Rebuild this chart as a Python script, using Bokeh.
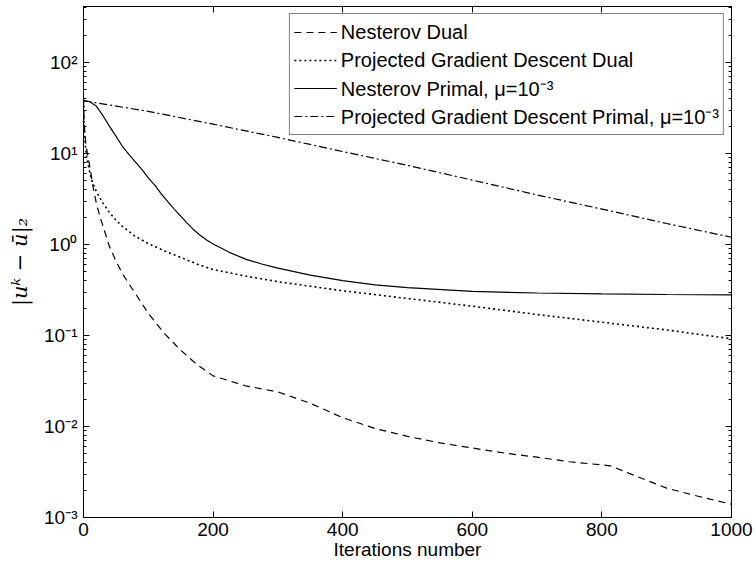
from bokeh.plotting import figure
from bokeh.models import Range1d, FixedTicker, LinearAxis, LogAxis, CustomJSTickFormatter
from bokeh.embed import file_html
from bokeh.resources import INLINE

# ---- data ----
nd_it = [0, 1, 3, 5, 10, 15, 20, 26, 30, 40, 50, 60, 70, 80, 90, 100, 125, 150, 175, 200,
         250, 300, 350, 400, 450, 500, 550, 600, 650, 700, 750, 813, 850, 900, 950, 1000]
nd_val = [38, 22, 14, 11, 7, 4.2, 2.8, 1.95, 1.6, 0.95, 0.66, 0.48, 0.37, 0.29, 0.225, 0.175, 0.105, 0.069, 0.048, 0.036,
          0.028, 0.024, 0.018, 0.0125, 0.0095, 0.0078, 0.0066, 0.0058, 0.0051, 0.0046, 0.0041, 0.0037, 0.0029, 0.0021, 0.0017, 0.0014]

pd_it = [0, 1, 3, 5, 10, 13, 20, 30, 40, 50, 60, 80, 100, 125, 150, 175, 200, 250, 300,
         400, 500, 600, 700, 800, 900, 1000]
pd_val = [38, 20, 12, 9, 6, 5.0, 3.8, 2.85, 2.25, 1.85, 1.58, 1.23, 1.02, 0.85, 0.72, 0.61, 0.53, 0.45, 0.39,
          0.31, 0.255, 0.21, 0.17, 0.14, 0.115, 0.092]

np_it = [0, 10, 20, 30, 40, 50, 60, 70, 80, 90, 100, 110, 120, 130, 140, 150, 160, 170, 180, 190, 200,
         225, 250, 275, 300, 350, 400, 450, 500, 600, 700, 800, 900, 1000]
np_val = [38, 37, 33, 26, 20, 15.5, 12, 9.8, 8.1, 6.7, 5.4, 4.5, 3.6, 2.95, 2.45, 2.05, 1.72, 1.45, 1.26, 1.12, 1.01,
          0.82, 0.69, 0.61, 0.55, 0.46, 0.40, 0.36, 0.335, 0.305, 0.293, 0.286, 0.282, 0.28]

pp_it = [0, 100, 200, 300, 400, 500, 600, 700, 800, 900, 1000]
pp_val = [38, 29, 21, 15, 10.5, 7.4, 5.1, 3.5, 2.45, 1.7, 1.2]

labels = ["Nesterov Dual", "Projected Gradient Descent Dual",
          "Nesterov Primal, \u03bc=10\u207b\u00b3",
          "Projected Gradient Descent Primal, \u03bc=10\u207b\u00b3"]

x_ticks = [0, 200, 400, 600, 800, 1000]
y_exps = [-3, -2, -1, 0, 1, 2]

FONT = "Liberation Sans"
YMAX = 10 ** 2.615

p = figure(width=756, height=570, x_range=Range1d(0, 1000), y_range=Range1d(1e-3, YMAX),
           y_axis_type="log", output_backend="svg", toolbar_location=None,
           min_border_left=83, min_border_right=25, min_border_top=6, min_border_bottom=53)
p.background_fill_color = "white"
p.border_fill_color = "white"
p.outline_line_color = "black"
p.outline_line_width = 1
p.xgrid.grid_line_color = None
p.ygrid.grid_line_color = None

yt_major = [10.0 ** e for e in y_exps]
yt_minor = [k * 10.0 ** e for e in y_exps for k in range(2, 10) if k * 10.0 ** e < YMAX]
yticker = FixedTicker(ticks=yt_major, minor_ticks=yt_minor)
xticker = FixedTicker(ticks=x_ticks)

fmt = CustomJSTickFormatter(code="""
const e = Math.round(Math.log10(tick));
const sup = {'-':'\\u207b','0':'\\u2070','1':'\\u00b9','2':'\\u00b2','3':'\\u00b3','4':'\\u2074',
             '5':'\\u2075','6':'\\u2076','7':'\\u2077','8':'\\u2078','9':'\\u2079'};
return '10' + String(e).split('').map(c => sup[c]).join('');
""")

def style_axis(ax, is_x, show_labels):
    ax.ticker = xticker if is_x else yticker
    ax.major_tick_in = 6
    ax.major_tick_out = 0
    ax.minor_tick_in = 3
    ax.minor_tick_out = 0
    ax.axis_line_color = "black"
    ax.major_tick_line_color = "black"
    if is_x:
        ax.minor_tick_line_color = None
    else:
        ax.minor_tick_line_color = "black"
    if show_labels:
        ax.major_label_text_font = FONT
        ax.major_label_text_font_size = "19px"
        ax.major_label_text_color = "black"
    else:
        ax.major_label_text_font_size = "0px"
        ax.major_label_standoff = 0
        ax.major_label_text_color = None

xa = p.xaxis[0]
style_axis(xa, True, True)
xa.major_label_standoff = 5
xa.axis_label = "Iterations number"
xa.axis_label_text_font = FONT
xa.axis_label_text_font_size = "19px"
xa.axis_label_text_font_style = "normal"
xa.axis_label_text_color = "black"
xa.axis_label_standoff = 0

ya = p.yaxis[0]
style_axis(ya, False, True)
ya.formatter = fmt
ya.major_label_standoff = 6
ya.axis_label = "|u\u1d4f \u2212 \u016b|\u2082"
ya.axis_label_text_font = "DejaVu Serif"
ya.axis_label_text_font_size = "21px"
ya.axis_label_text_font_style = "italic"
ya.axis_label_text_color = "black"
ya.axis_label_standoff = 9

top = LinearAxis()
style_axis(top, True, False)
p.add_layout(top, "above")
right = LogAxis()
style_axis(right, False, False)
p.add_layout(right, "right")

lw = 1.2
p.line(nd_it, nd_val, line_color="black", line_width=lw, line_dash="7 5", legend_label=labels[0])
p.line(pd_it, pd_val, line_color="black", line_width=1.6, line_dash="2 3", legend_label=labels[1])
p.line(np_it, np_val, line_color="black", line_width=lw, legend_label=labels[2])
p.line(pp_it, pp_val, line_color="black", line_width=lw, line_dash="8 3 2 3", legend_label=labels[3])

lg = p.legend[0]
lg.location = "top_right"
lg.margin = 7
lg.padding = 4
lg.spacing = 0
lg.label_height = 28
lg.glyph_height = 28
lg.glyph_width = 43
lg.label_standoff = 4
lg.label_text_font = FONT
lg.label_text_font_size = "20px"
lg.label_text_color = "black"
lg.border_line_color = "black"
lg.border_line_width = 1
lg.background_fill_color = "white"
lg.background_fill_alpha = 1.0

open("out.html", "w").write(file_html(p, INLINE))
